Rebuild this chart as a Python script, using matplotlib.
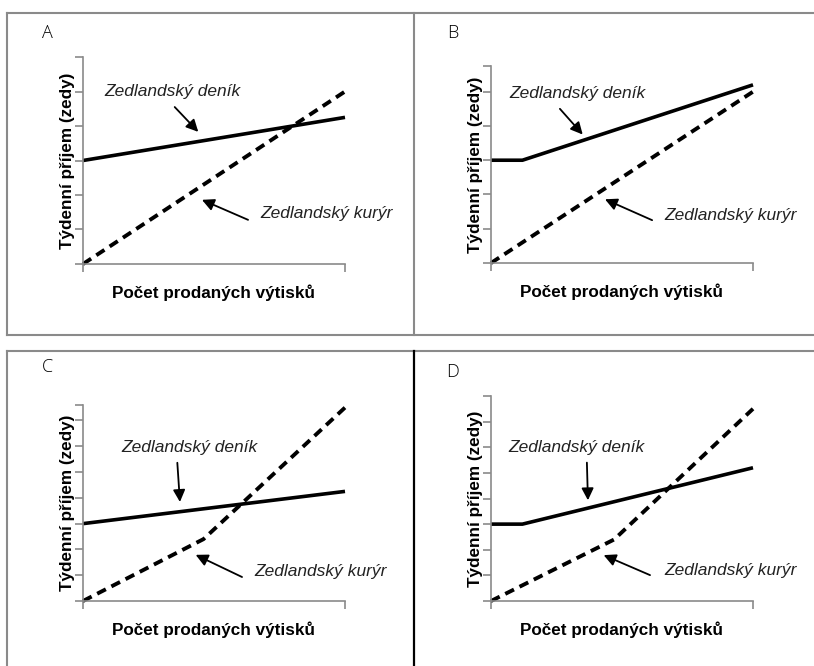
import matplotlib
matplotlib.use('Agg')
import matplotlib.pyplot as plt
from matplotlib.lines import Line2D

plt.rcParams['font.family'] = ['Liberation Sans', 'DejaVu Sans']

# Data (x = share of copies sold, y = weekly income in tick units)
panel_names = ['A', 'B', 'C', 'D']
denik_x = {'A': [0, 1], 'B': [0, 0.12, 1], 'C': [0, 1], 'D': [0, 0.12, 1]}
denik_y = {'A': [3.0, 4.25], 'B': [3.0, 3.0, 5.2], 'C': [3.0, 4.25], 'D': [3.0, 3.0, 5.2]}
kuryr_x = {'A': [0, 1], 'B': [0, 1], 'C': [0, 0.46, 1], 'D': [0, 0.47, 1]}
kuryr_y = {'A': [0, 5.0], 'B': [0, 5.0], 'C': [0, 2.4, 7.5], 'D': [0, 2.4, 7.5]}
y_top = {'A': 6, 'B': 5.75, 'C': 7.6, 'D': 8}

denik_label = 'Zedlandský deník'
kuryr_label = 'Zedlandský kurýr'
x_label = 'Počet prodaných výtisků'
y_label = 'Týdenní příjem (zedy)'

# annotation placement: (text xy, arrow tail, arrow head) in data coords
denik_ann = {'A': ((0.34, 4.99), (0.35, 4.55), (0.44, 3.83)),
             'B': ((0.33, 4.94), (0.263, 4.5), (0.35, 3.75)),
             'C': ((0.405, 5.94), (0.36, 5.36), (0.37, 3.84)),
             'D': ((0.326, 5.99), (0.366, 5.4), (0.37, 3.93))}
kuryr_ann = {'A': ((0.93, 1.45), (0.63, 1.28), (0.454, 1.86)),
             'B': ((0.916, 1.40), (0.615, 1.25), (0.435, 1.86)),
             'C': ((0.905, 1.13), (0.607, 0.93), (0.43, 1.79)),
             'D': ((0.916, 1.2), (0.607, 1.01), (0.43, 1.79))}

# axes rectangles in figure pixels (left, right, bottom, top)
W, H = 814, 666
axes_px = {'A': (83, 345, 264, 57), 'B': (491, 753, 263, 66),
           'C': (83, 345, 601, 405), 'D': (491, 753, 601, 396)}
letter_px = {'A': (47, 33), 'B': (453, 33), 'C': (47, 367), 'D': (453, 372)}

fig = plt.figure(figsize=(W / 100, H / 100), dpi=100)
grey = '#8a8a8a'

for p in panel_names:
    x0, x1, yb, yt = axes_px[p]
    ax = fig.add_axes([x0 / W, 1 - yb / H, (x1 - x0) / W, (yb - yt) / H])
    ax.plot(denik_x[p], denik_y[p], color='black', lw=2.6, clip_on=False,
            solid_capstyle='butt')
    ax.plot(kuryr_x[p], kuryr_y[p], color='black', lw=2.8, clip_on=False,
            dashes=(2.5, 1.6))
    ax.set_xlim(0, 1)
    ax.set_ylim(0, y_top[p])
    ax.set_xticks([0, 1])
    yt_list = list(range(0, int(y_top[p]) + 1))
    if y_top[p] not in yt_list:
        yt_list.append(y_top[p])
    ax.set_yticks(yt_list)
    ax.set_xticklabels([])
    ax.set_yticklabels([])
    ax.tick_params(length=6, width=1.2, color=grey, direction='out')
    for s in ['top', 'right']:
        ax.spines[s].set_visible(False)
    for s in ['left', 'bottom']:
        ax.spines[s].set_color(grey)
        ax.spines[s].set_linewidth(1.2)
    ax.set_xlabel(x_label, fontsize=12.3, fontweight='bold', labelpad=5)
    ax.set_ylabel(y_label, fontsize=12.3, fontweight='bold', labelpad=-4)

    t, tail, head = denik_ann[p]
    ax.text(t[0], t[1], denik_label, fontsize=12.5, style='italic',
            ha='center', va='center', color='#222222')
    ax.annotate('', xy=head, xytext=tail,
                arrowprops=dict(arrowstyle='-|>', color='black', lw=1.3,
                                mutation_scale=18, shrinkA=0, shrinkB=0))
    t, tail, head = kuryr_ann[p]
    ax.text(t[0], t[1], kuryr_label, fontsize=12.5, style='italic',
            ha='center', va='center', color='#222222', clip_on=False)
    ax.annotate('', xy=head, xytext=tail,
                arrowprops=dict(arrowstyle='-|>', color='black', lw=1.3,
                                mutation_scale=18, shrinkA=0, shrinkB=0))

    lx, ly = letter_px[p]
    fig.text(lx / W, 1 - ly / H, p, fontsize=13, family='Open Sans',
             fontweight='light', ha='center', va='center')

# panel frames
def hline(y, x0, x1, color=grey, lw=1.5):
    fig.add_artist(Line2D([x0 / W, x1 / W], [1 - y / H, 1 - y / H], color=color, lw=lw))

def vline(x, y0, y1, color=grey, lw=1.5):
    fig.add_artist(Line2D([x / W, x / W], [1 - y0 / H, 1 - y1 / H], color=color, lw=lw))

hline(13, 7, 814)
hline(335, 7, 814)
vline(7, 13, 335)
vline(414, 13, 335)
hline(351, 7, 814)
vline(7, 351, 666)
vline(414, 351, 666, color='black', lw=1.6)

fig.savefig('out.png', dpi=100)
